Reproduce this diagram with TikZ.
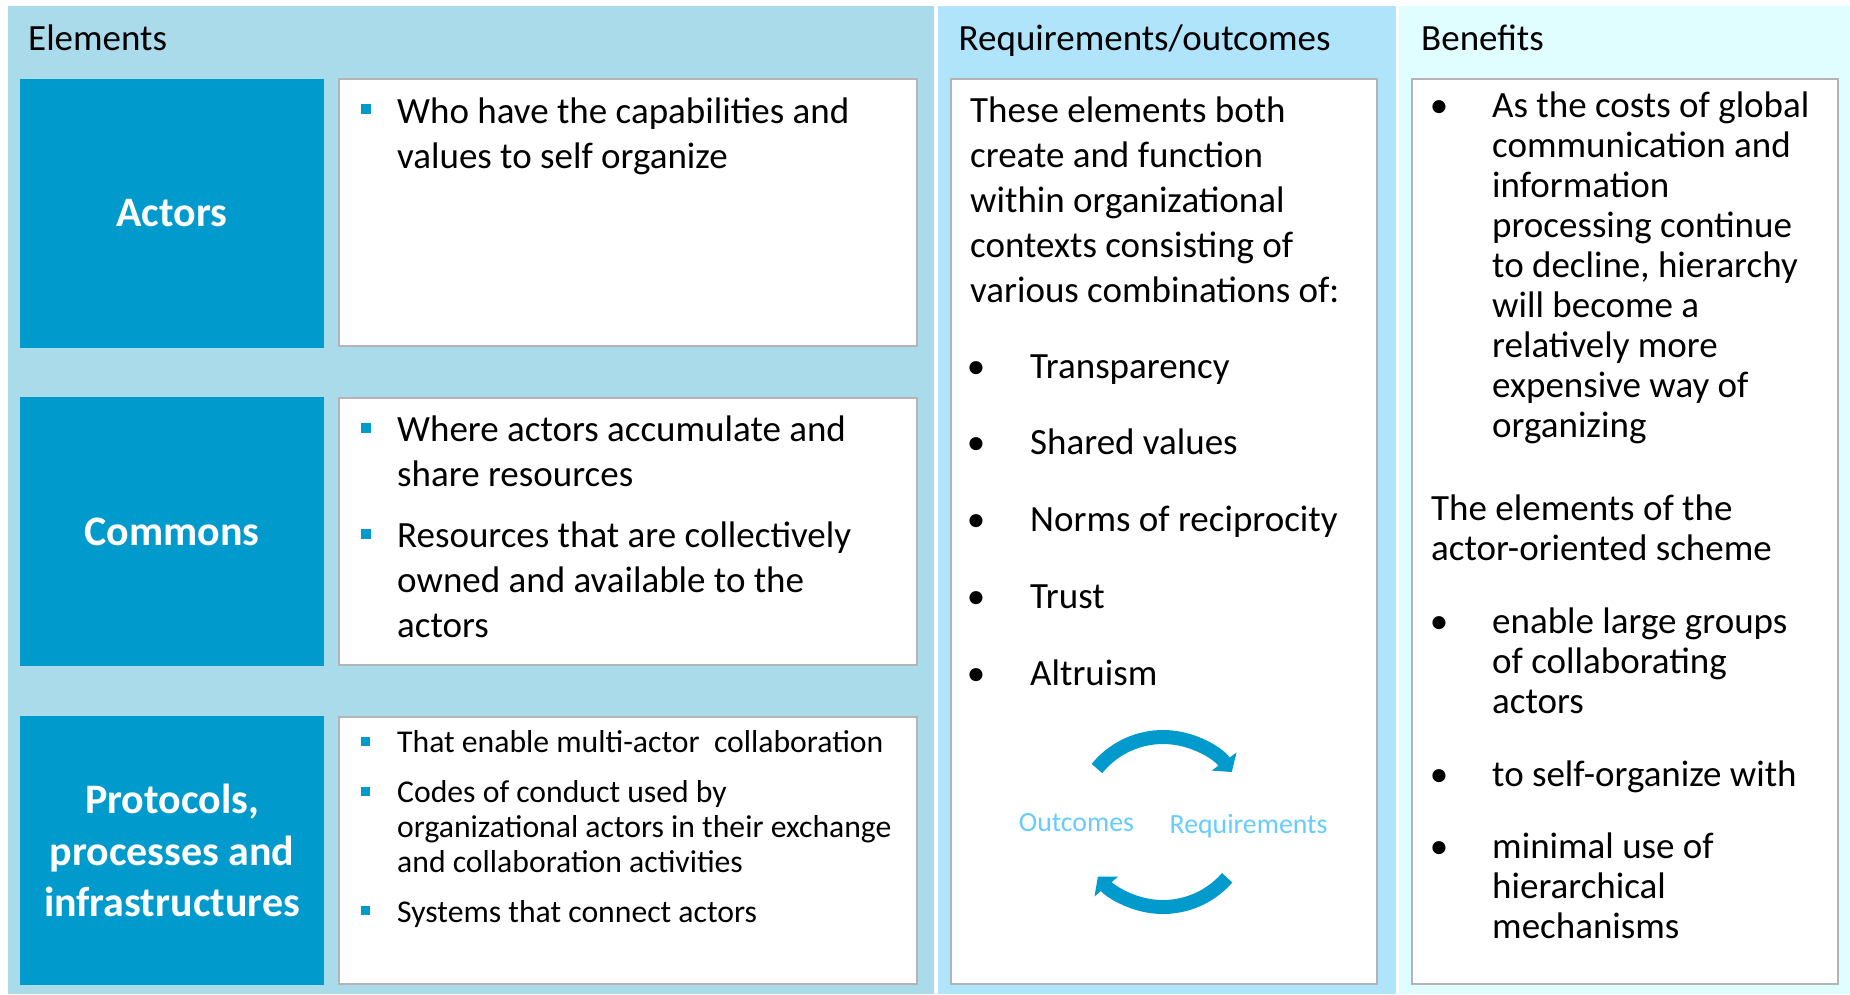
\documentclass[tikz,border=0pt]{standalone}
\usepackage{fontspec}
\setmainfont{Carlito}
\usetikzlibrary{arrows.meta}
\definecolor{elembg}{HTML}{A9DBEB}
\definecolor{reqbg}{HTML}{B0E4FB}
\definecolor{benbg}{HTML}{E0FDFF}
\definecolor{deepblue}{HTML}{009ACD}
\definecolor{framegray}{HTML}{B4B4B4}
\definecolor{cyclelabel}{HTML}{66CCFF}

\begin{document}
\begin{tikzpicture}[x=1pt,y=-1pt,
  bluebox/.style={fill=deepblue, text=white, align=center, inner sep=0pt,
    minimum width=304pt, minimum height=269pt,
    font=\bfseries\fontsize{42}{51.5}\selectfont},
  whitebox/.style={fill=white, draw=framegray, line width=2pt, inner sep=0pt},
  ln/.style={anchor=base west, inner sep=0pt, font=\fontsize{37}{45}\selectfont},
  smallln/.style={anchor=base west, inner sep=0pt, font=\fontsize{31.7}{35}\selectfont},
  sqbullet/.style={fill=deepblue, inner sep=0pt, minimum size=10pt},
  smallsq/.style={fill=deepblue, inner sep=0pt, minimum size=9pt},
  dot/.style={anchor=base, inner sep=0pt, font=\fontsize{37}{45}\selectfont},
  cyctxt/.style={anchor=base, inner sep=0pt, text=cyclelabel,
    font=\fontsize{27.8}{33}\selectfont},
  cyclearrow/.style={draw=deepblue, line width=14pt,
    -{Triangle[width=30pt,length=13pt]}}
]
\useasboundingbox (0,0) rectangle (1850,994);

% column backgrounds
\fill[elembg] (8,6) rectangle (934,994);
\fill[reqbg] (938,6) rectangle (1396,994);
\fill[benbg] (1399,6) rectangle (1850,994);

% column headings
\node[ln] (elemhead) at (28,50) {Elements};
\node[ln] (reqhead) at (958.5,50) {Requirements/outcomes};
\node[ln] (benhead) at (1421,50) {Benefits};

% element labels
\node[bluebox] (actors) at (172,213.5) {Actors};
\node[bluebox] (commons) at (172,531.5) {Commons};
\node[bluebox] (protocols) at (172,850.5) {Protocols,\\processes and\\infrastructures};

% element descriptions
\node[whitebox, minimum width=578pt, minimum height=267pt] (actorsinfo) at (628,212.5) {};
\node[whitebox, minimum width=578pt, minimum height=267pt] (commonsinfo) at (628,531.5) {};
\node[whitebox, minimum width=578pt, minimum height=267pt] (protoinfo) at (628,850.5) {};

\node[sqbullet] (actmark) at (365.5,109) {};
\foreach \t [count=\i from 0] in {Who have the capabilities and, values to self organize}
  \node[ln] (acttext-\i) at (397,{123+45*\i}) {\t};

\node[sqbullet] (commarka) at (365.5,428) {};
\foreach \t [count=\i from 0] in {Where actors accumulate and, share resources}
  \node[ln] (comtexta-\i) at (397,{441+45*\i}) {\t};
\node[sqbullet] (commarkb) at (365.5,534) {};
\foreach \t [count=\i from 0] in {Resources that are collectively, owned and available to the, actors}
  \node[ln] (comtextb-\i) at (397,{547+45*\i}) {\t};

\node[smallsq] (promarka) at (365,741) {};
\node[smallln] (protexta) at (397,752.5) {That enable multi-actor\ \ collaboration};
\node[smallsq] (promarkb) at (365,791) {};
\foreach \t [count=\i from 0] in {Codes of conduct used by, organizational actors in their exchange, and collaboration activities}
  \node[smallln] (protextb-\i) at (397,{802.5+35*\i}) {\t};
\node[smallsq] (promarkc) at (365,910) {};
\node[smallln] (protextc) at (397,922) {Systems that connect actors};

% requirements / outcomes
\node[whitebox, minimum width=426pt, minimum height=905pt] (reqbox) at (1164,531.5) {};
\foreach \t [count=\i from 0] in {These elements both, create and function, within organizational, contexts consisting of, various combinations of:}
  \node[ln] (reqintro-\i) at (970,{122.5+45*\i}) {\t};
\foreach \t/\y [count=\i] in {Transparency/378, Shared values/454, Norms of reciprocity/531, Trust/608, Altruism/685} {
  \node[dot] (reqdot-\i) at (976,\y) {•};
  \node[ln] (reqitem-\i) at (1030,\y) {\t};
}

% outcome / requirement cycle
\coordinate (cyc) at (1163,822);
\node[cyctxt] (outc) at (1076.5,831) {Outcomes};
\node[cyctxt] (reqs) at (1248.5,833) {Requirements};
\draw[cyclearrow] (cyc) ++(-141:85) arc[start angle=-141, end angle=-36, radius=85];
\draw[cyclearrow] (cyc) ++(41:85) arc[start angle=41, end angle=140, radius=85];

% benefits
\node[whitebox, minimum width=426pt, minimum height=905pt] (benbox) at (1625,531.5) {};
\node[dot] (bendota) at (1439,117) {•};
\foreach \t [count=\i from 0] in {As the costs of global, communication and, information, processing continue, {to decline, hierarchy}, will become a, relatively more, expensive way of, organizing}
  \node[ln] (bena-\i) at (1492,{117+40.1*\i}) {\t};
\foreach \t [count=\i from 0] in {The elements of the, actor-oriented scheme}
  \node[ln] (benb-\i) at (1431,{520+40.1*\i}) {\t};
\node[dot] (bendotc) at (1439,633) {•};
\foreach \t [count=\i from 0] in {enable large groups, of collaborating, actors}
  \node[ln] (benc-\i) at (1492,{633+40.1*\i}) {\t};
\node[dot] (bendotd) at (1439,786) {•};
\node[ln] (bend) at (1492,786) {to self-organize with};
\node[dot] (bendote) at (1439,858) {•};
\foreach \t [count=\i from 0] in {minimal use of, hierarchical, mechanisms}
  \node[ln] (bene-\i) at (1492,{858+40.1*\i}) {\t};
\end{tikzpicture}
\end{document}
